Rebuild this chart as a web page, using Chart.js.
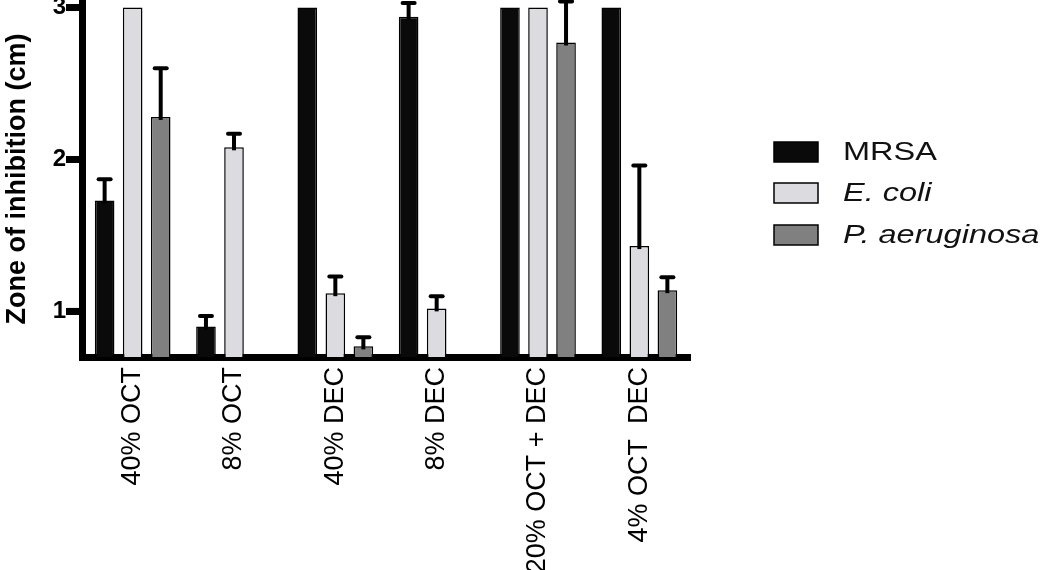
<!DOCTYPE html>
<html>
<head>
<meta charset="utf-8">
<title>Zone of inhibition</title>
<script src="https://cdn.jsdelivr.net/npm/chart.js@4.4.1/dist/chart.umd.min.js"></script>
<style>
  html, body { margin: 0; padding: 0; background: #fff; }
  canvas { display: block; }
</style>
</head>
<body>
<canvas id="zoneChart" width="1050" height="570"></canvas>
<script>
// values (cm)
const categories = ['40% OCT', '8% OCT', '40% DEC', '8% DEC', '20% OCT + DEC', '4% OCT  DEC'];
const mrsa     = [1.73, 0.90, 3.0, 2.94, 3.0, 3.0];
const mrsaErr  = [0.14, 0.07, 0, 0.09, 0, 0];
const ecoli    = [3.0, 2.08, 1.12, 1.02, 3.0, 1.43];
const ecoliErr = [0, 0.09, 0.11, 0.08, 0, 0.53];
const paeru    = [2.28, null, 0.77, null, 2.77, 1.14];
const paeruErr = [0.32, 0, 0.06, 0, 0.27, 0.085];
const yTicks   = [1, 2, 3];

Chart.defaults.font.family = '"Liberation Sans", Arial, sans-serif';

// one-sided (upper) error bars with a cap
const errorBars = {
    id: 'errorBars',
    afterDatasetsDraw(chart) {
        const c = chart.ctx;
        const yScale = chart.scales.y;
        c.save();
        c.strokeStyle = '#000';
        c.lineWidth = 4;
        chart.data.datasets.forEach((ds, i) => {
            chart.getDatasetMeta(i).data.forEach((bar, j) => {
                const v = ds.data[j], e = ds.errors[j];
                if (v == null || !e) return;
                const top = yScale.getPixelForValue(v + e);
                c.beginPath();
                c.moveTo(bar.x, bar.y + 3);
                c.lineTo(bar.x, top);
                c.stroke();
                c.beginPath();
                c.lineCap = 'round';
                c.moveTo(bar.x - 6, top);
                c.lineTo(bar.x + 6, top);
                c.stroke();
                c.lineCap = 'butt';
            });
        });
        c.restore();
    }
};

// thick tick stubs on the left of the y axis
const yStubs = {
    id: 'yStubs',
    afterDraw(chart) {
        const c = chart.ctx;
        const yScale = chart.scales.y;
        c.save();
        c.strokeStyle = '#000';
        c.lineWidth = 7;
        yScale.ticks.forEach(t => {
            const py = yScale.getPixelForValue(t.value);
            c.beginPath();
            c.moveTo(yScale.right - 15, py);
            c.lineTo(yScale.right, py);
            c.stroke();
        });
        c.restore();
    }
};

// legend on the right, species names in italics
const sideLegend = {
    id: 'sideLegend',
    afterDraw(chart) {
        const c = chart.ctx;
        const rows = [152, 193, 235];
        chart.data.datasets.forEach((ds, i) => {
            const y = rows[i];
            c.save();
            c.fillStyle = ds.backgroundColor;
            c.fillRect(774, y - 10, 44, 20);
            c.lineWidth = 1.5;
            c.strokeStyle = '#000';
            c.strokeRect(774, y - 10, 44, 20);
            c.translate(843, y + 1);
            c.scale(1.3, 1.05);
            c.font = (ds.italic ? 'italic ' : '') + '25px "Liberation Sans", Arial, sans-serif';
            c.fillStyle = '#111';
            c.textBaseline = 'middle';
            c.fillText(ds.label, 0, 0);
            c.restore();
        });
    }
};

const ctx = document.getElementById('zoneChart').getContext('2d');
const zoneChart = new Chart(ctx, {
    type: 'bar',
    data: {
        labels: categories,
        datasets: [
            { label: 'MRSA', data: mrsa, errors: mrsaErr, italic: false,
              backgroundColor: '#0a0a0a' },
            { label: 'E. coli', data: ecoli, errors: ecoliErr, italic: true,
              backgroundColor: '#dcdce0' },
            { label: 'P. aeruginosa', data: paeru, errors: paeruErr, italic: true,
              backgroundColor: '#808080' }
        ]
    },
    options: {
        responsive: false,
        animation: false,
        devicePixelRatio: 1,
        layout: { padding: { top: 1, right: 360, bottom: 0, left: 0 } },
        datasets: {
            bar: {
                categoryPercentage: 0.83,
                barPercentage: 0.7,
                borderColor: '#000',
                borderWidth: 1.5
            }
        },
        plugins: {
            legend: { display: false },
            tooltip: { enabled: false }
        },
        scales: {
            x: {
                grid: { display: false, drawTicks: false },
                border: { display: true, color: '#000', width: 7 },
                ticks: {
                    color: '#000',
                    font: { size: 27 },
                    minRotation: 90,
                    maxRotation: 90,
                    autoSkip: false,
                    padding: 10
                },
                afterFit(scale) {
                    scale.height = 213;
                    scale.paddingLeft = 0;
                    scale.paddingRight = 0;
                }
            },
            y: {
                min: 0.7,
                max: 3.043,
                afterBuildTicks(scale) {
                    scale.ticks = yTicks.map(v => ({ value: v }));
                },
                grid: {
                    drawOnChartArea: false,
                    color: '#000',
                    tickLength: 16,
                    tickWidth: 7
                },
                border: { color: '#000', width: 7 },
                ticks: {
                    color: '#000',
                    font: { size: 24, weight: 'bold' },
                    padding: 0
                },
                title: {
                    display: true,
                    text: 'Zone of inhibition (cm)',
                    color: '#000',
                    font: { size: 27, weight: 'bold' },
                    padding: 1
                },
                afterFit(scale) {
                    scale.width = 82;
                    scale.paddingTop = 0;
                    scale.paddingBottom = 0;
                }
            }
        }
    },
    plugins: [errorBars, yStubs, sideLegend]
});
</script>
</body>
</html>
